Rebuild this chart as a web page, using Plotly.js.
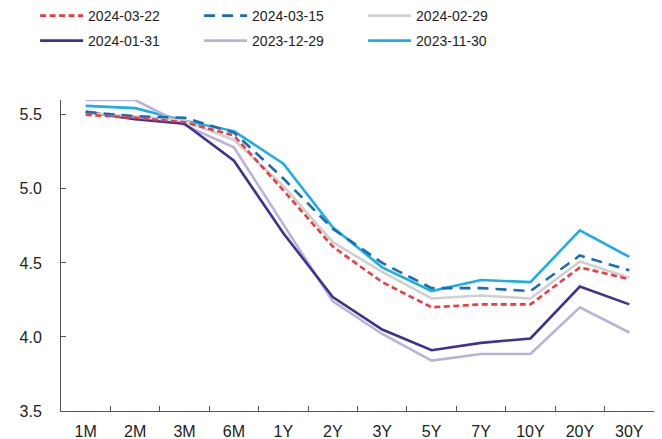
<!DOCTYPE html>
<html>
<head>
<meta charset="utf-8">
<script src="https://cdn.plot.ly/plotly-3.0.1.min.js"></script>
<style>html,body{margin:0;padding:0;background:#fff;}#chart{width:662px;height:439px;}</style>
</head>
<body>
<div id="chart"></div>
<script>
var tenors = ['1M','2M','3M','6M','1Y','2Y','3Y','5Y','7Y','10Y','20Y','30Y'];
var s20240322 = [5.50, 5.48, 5.45, 5.36, 4.99, 4.61, 4.37, 4.20, 4.22, 4.22, 4.47, 4.39];
var s20240315 = [5.52, 5.49, 5.48, 5.38, 5.07, 4.73, 4.50, 4.33, 4.33, 4.31, 4.55, 4.45];
var s20240229 = [5.51, 5.49, 5.46, 5.33, 5.02, 4.64, 4.44, 4.26, 4.28, 4.26, 4.51, 4.40];
var s20240131 = [5.52, 5.47, 5.44, 5.19, 4.70, 4.27, 4.05, 3.91, 3.96, 3.99, 4.34, 4.22];
var s20231229 = [5.60, 5.60, 5.43, 5.28, 4.76, 4.24, 4.02, 3.84, 3.885, 3.885, 4.20, 4.03];
var s20231130 = [5.56, 5.545, 5.46, 5.39, 5.17, 4.74, 4.47, 4.31, 4.385, 4.37, 4.72, 4.54];
var yTicks = [3.5, 4.0, 4.5, 5.0, 5.5];
var yTickText = ['3.5', '4.0', '4.5', '5.0', '5.5'];

function tr(name, y, color, dash, legend, rank) {
  return {
    type: 'scatter', mode: 'lines', name: name, x: tenors, y: y,
    line: {color: color, width: 2.6, dash: dash},
    legend: legend, legendrank: rank
  };
}
var data = [
  tr('2023-11-30', s20231130, '#1eaee6', 'solid', 'legend2', 6),
  tr('2023-12-29', s20231229, '#b9b3da', 'solid', 'legend2', 5),
  tr('2024-01-31', s20240131, '#3e3290', 'solid', 'legend2', 4),
  tr('2024-02-29', s20240229, '#d0d0d0', 'solid', 'legend', 3),
  tr('2024-03-15', s20240315, '#1b6db3', '11px,7px', 'legend', 2),
  tr('2024-03-22', s20240322, '#ef3b40', '6px,3.5px', 'legend', 1)
];
var legFont = {family: 'Liberation Sans, Arial, sans-serif', size: 14, color: '#222'};
var legBase = {
  xref: 'container', yref: 'container', x: 0.053, xanchor: 'left', yanchor: 'top',
  orientation: 'h', entrywidth: 106, entrywidthmode: 'pixels', itemwidth: 43,
  font: legFont, bgcolor: 'rgba(0,0,0,0)', traceorder: 'normal'
};
var layout = {
  width: 662, height: 439,
  margin: {l: 61, r: 8, t: 100, b: 28},
  paper_bgcolor: '#fff', plot_bgcolor: '#fff',
  font: {family: 'Liberation Sans, Arial, sans-serif', size: 16, color: '#222'},
  showlegend: true,
  legend: Object.assign({}, legBase, {y: 1}),
  legend2: Object.assign({}, legBase, {y: 0.943}),
  xaxis: {
    type: 'category', categoryorder: 'array', categoryarray: tenors,
    showgrid: false, zeroline: false,
    showline: true, linecolor: '#555', linewidth: 1,
    ticks: 'inside', tickson: 'boundaries', ticklen: 5, tickcolor: '#555',
    ticklabelstandoff: 6,
    tickfont: {size: 16, color: '#222'},
    range: [-0.5, 11.5]
  },
  yaxis: {
    range: [3.5, 5.6], tickvals: yTicks, ticktext: yTickText,
    showgrid: false, zeroline: false,
    showline: true, linecolor: '#555', linewidth: 1,
    ticks: 'inside', ticklen: 5, tickcolor: '#555',
    ticklabelstandoff: 15,
    tickfont: {size: 16, color: '#222'}
  }
};
Plotly.newPlot('chart', data, layout, {displayModeBar: false, responsive: false});
</script>
</body>
</html>
